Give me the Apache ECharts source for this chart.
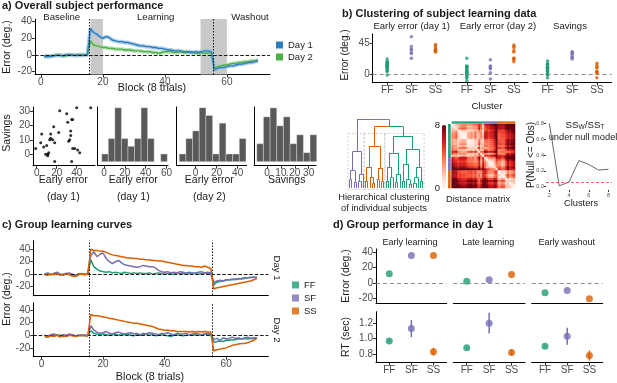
<!DOCTYPE html>
<html>
<head>
<meta charset="utf-8">
<script src="https://cdn.jsdelivr.net/npm/echarts@6/dist/echarts.min.js"></script>
<style>
html, body { margin: 0; padding: 0; background: #fff; }
#chart { width: 617px; height: 383px; }
</style>
</head>
<body>
<div id="chart"></div>
<script>
const FONT = '"Liberation Sans", Arial, sans-serif';
const TICK = '#4d4d4d';

// ---- names / colours ----
const clusterNames = ['FF', 'SF', 'SS'];
const clusterColors = ['#1b9e77', '#7570b3', '#d95f02'];
const dayNames = ['Day 1', 'Day 2'];
const dayColors = ['#2e7ebc', '#4daf4a'];
const dayBandColors = ['#9cc3e6', '#a9d8a4'];

// ---- a) overall error per block (blocks 1..70) ----
const blocks = [];
for (let b = 1; b <= 70; b++) blocks.push(b);
const overallDay1 = [
  -2, -1.5, -2, -1, -0.5, -0.5, -1, 0, 0.5, 0, -0.5, 0, -0.5, 0, 0.5,
  32, 27, 25, 22, 20, 22, 21, 18, 17, 16, 16, 15, 15, 14, 13, 12, 11, 11, 10, 10,
  9, 9, 8, 8, 7, 6, 6, 5, 5, 5, 4, 4, 3, 3, 4, 3, 4, 5, 5, 4,
  -18, -16, -15, -15, -14, -13, -13, -12, -11, -11, -10, -9, -9, -8, -7
];
const overallDay2 = [
  -1, -2, -1, -1, 0, 0, -1, -1, 0, 0, -0.5, 0, 0.5, 0, 0,
  17, 12, 11, 10, 9, 9, 8, 8, 7, 7, 7, 6, 6, 6, 5, 5, 5, 4, 4, 4,
  3, 3, 2, 3, 4, 4, 4, 3, 3, 4, 3, 3, 4, 3, 2, 2, 3, 2, 3, 2,
  -16, -14, -13, -12, -12, -11, -10, -10, -9, -9, -8, -8, -7, -7, -6
];
const phaseLabels = ['Baseline', 'Learning', 'Washout'];
const phaseBreaks = [15.5, 55.5];
const shadeRanges = [[16, 20], [51.5, 60]];

// ---- c) group learning curves ----
const ffDay1 = [
  1, 0, -1, 1, 2, 0, -1, 1, 0, -1, -2, 0, 1, 0, 0,
  23, 12, 8, 5, 4, 3, 4, 2, 3, 2, 1, 3, 2, 1, 2, 1, 2, 1, 1, 2,
  0, 1, 2, 1, 0, 1, 1, 0, 2, 1, 1, 0, 1, 2, 1, 0, 1, 2, 1, 1,
  -17, -13, -12, -11, -10, -9, -9, -8, -8, -7, -6, -6, -5, -5, -5
];
const sfDay1 = [
  0, 2, -1, 1, 3, 0, -2, 1, 2, 0, -3, 1, 0, -1, 1,
  30, 36, 28, 32, 34, 25, 20, 17, 20, 22, 18, 15, 14, 13, 12, 11, 12, 14, 13, 12,
  12, 10, 6, 4, 3, 4, 2, 3, 2, 4, 3, 2, 3, 1, 2, 3, 4, 2, 3, 2,
  -13, -11, -10, -11, -9, -9, -8, -9, -7, -8, -7, -6, -6, -5, -6
];
const ssDay1 = [
  -1, -2, 0, -1, 1, -2, 0, 1, -1, -3, -4, -1, 0, -1, 0,
  40, 38, 38, 37, 37, 35, 33, 31, 30, 29, 28, 27, 26, 26, 25, 25, 24, 24, 23, 23,
  22, 22, 21, 21, 20, 19, 18, 17, 16, 15, 14, 14, 13, 13, 12, 12, 11, 13, 11, 9,
  -24, -22, -21, -20, -19, -18, -17, -16, -15, -14, -13, -12, -11, -9, -7
];
const ffDay2 = [
  -2, -3, 0, -1, 1, 0, -2, -1, 0, 1, -1, 0, -1, 0, 0,
  7, 3, 2, 1, 2, 1, 0, 1, 2, 0, 1, 1, 2, 0, -1, 1, 0, 1, 2, 0,
  1, -1, 0, 1, 0, -1, -2, 0, 1, 0, -1, 0, 1, 0, 1, 0, 1, 2, 1, 1,
  -11, -10, -9, -10, -8, -8, -7, -7, -6, -6, -5, -6, -5, -5, -4
];
const sfDay2 = [
  0, -1, 1, 2, 0, -1, 1, 0, 2, 1, -1, 0, 1, 0, -1,
  15, 8, 5, 3, 4, 6, 3, 2, 4, 5, 3, 2, 3, 4, 2, 3, 1, 3, 2, 4,
  3, 2, 1, 3, 2, 4, 2, 1, 3, 2, 2, 3, 1, 2, 3, 2, 1, 2, 3, 2,
  -7, -5, -8, -4, -6, -5, -3, -5, -4, -6, -4, -3, -5, -4, -4
];
const ssDay2 = [
  -1, -3, -1, -2, 0, -3, -1, -2, 0, -1, -2, -1, 0, -1, -1,
  33, 31, 31, 30, 29, 28, 27, 26, 25, 24, 23, 22, 21, 20, 19, 19, 18, 17, 16, 15,
  14, 12, 10, 9, 8, 8, 7, 7, 6, 6, 6, 6, 5, 6, 5, 6, 5, 6, 5, 5,
  -25, -23, -22, -21, -20, -18, -16, -15, -14, -13, -13, -12, -10, -8, -5
];

// ---- per subject (ordered FF, SF, SS) ----
const subjCluster = [0,0,0,0,0,0,0,0,0,0,0,0,0,0,0,0,0, 1,1,1,1,1,1,1, 2,2,2,2,2,2,2,2,2];
const subjEarly1  = [-1, 4, 5, 10, 9, 11, 11, 12, 13, 14, 14, 16, 17, 18, 18, 22, 7,  23, 30, 31, 35, 36, 40, 54,  32, 33, 34, 34, 36, 35, 38, 41, 43];
const subjEarly2  = [-5, -4, -9, 4, 9, 11, 12, 11, 3, 3, 0, 6, -2, 10, 23, 7, 2,  -7, 2, 9, 11, 12, 8, 21,  23, 23, 18, 21, 32, 40, 34, 38, 42];
const subjSavings = [4, 8, 14, 6, 0, 0, -1, 1, 10, 11, 14, 10, 19, 8, -5, 15, 5,  30, 28, 22, 24, 24, 32, 32,  9, 10, 16, 13, 4, -5, 4, 3, 1];
const stripTitles = ['Early error (day 1)', 'Early error (day 2)', 'Savings'];

// ---- a) histograms: bin left edges, counts, bin width ----
const histEarly1Left = [-2.2, 4.1, 10.4, 16.7, 23.0, 29.3, 35.6, 41.9, 54.5];
const histEarly1Count = [1, 3, 7, 3, 2, 3, 7, 3, 1];
const histEarly1Width = 6.3;
const histEarly2Left = [-15.6, -9.25, -2.9, 3.45, 9.8, 16.15, 22.5, 28.85, 35.2, 41.55];
const histEarly2Count = [1, 3, 4, 7, 6, 1, 5, 1, 1, 3];
const histEarly2Width = 6.35;
const histSavingsLeft = [-7.4, -2.6, 2.2, 7.0, 11.8, 16.6, 21.4, 26.2, 31.0];
const histSavingsCount = [2, 5, 6, 4, 5, 2, 3, 1, 3];
const histSavingsWidth = 4.8;

// ---- b) null model ----
const nullClusters = [2, 3, 4, 5, 6, 7, 8];
const nullP = [0.80, 0.01, 0.06, 0.33, 0.28, 0.21, 0.22];
const nullAlpha = 0.05;

// ---- b) dendrogram: [left, right, height], 0 = leaf ----
const dendroPurple = [[[0, 0, 1.2], [0, 0, 0.8], 2.5], [[0, 0, 1], 0, 2], 5.3];
const dendroOrange = [[[0, 0, 1], [0, [0, 0, 0.7], 1.5], 3], [[0, 0, 1.2], [0, 0, 0.9], 2.8], 6];
const dendroGreen = [[[[0, 0, 1], [0, 0, 1.5], 3], [[0, 0, 0.8], 0, 2], 5.1],
                     [[[0, 0, 1], [0, [0, 0, 0.6], 1.2], 3.5], [[[0, 0, 0.7], 0, 1.5], [0, 0, 1], 3], 5.6], 7.5];
const dendroRoot = [{c: 1, t: dendroPurple}, [{c: 2, t: dendroOrange}, {c: 0, t: dendroGreen}, 8.9], 10];

// ---- d) group performance day 1 ----
const perfPhases = ['Early learning', 'Late learning', 'Early washout'];
const perfError = [[12, 36, 36], [2, 4, 11], [-13, -10, -21]];
const perfRT = [[0.97, 1.13, 0.83], [0.88, 1.20, 0.82], [0.90, 1.03, 0.78]];
const perfRTse = [[0.01, 0.11, 0.05], [0.01, 0.135, 0.04], [0.01, 0.11, 0.065]];

// ================= build =================
const grid = [], xAxis = [], yAxis = [], series = [], graphic = [];

function addGrid(left, top, width, height, xa, ya) {
  const gi = grid.length;
  grid.push({left, top, width, height, containLabel: false, outerBoundsMode: 'none'});
  xAxis.push(Object.assign({gridIndex: gi}, xa));
  yAxis.push(Object.assign({gridIndex: gi}, ya));
  return gi;
}
function numAxis(min, max, ticks, o) {
  o = o || {};
  const has = ticks.length > 0;
  const label = {show: has && o.labels !== false, customValues: ticks, color: TICK,
    fontSize: o.fs || 10, fontFamily: FONT, margin: o.margin || 3};
  if (o.fmt) label.formatter = o.fmt;
  return {
    type: 'value', min, max,
    axisLine: {show: o.line !== false, onZero: false, lineStyle: {color: '#000', width: 1}},
    axisTick: {show: has && o.ticks !== false, customValues: ticks, length: o.tickLen || 3,
      lineStyle: {color: '#333', width: 1}},
    axisLabel: label,
    splitLine: {show: false}
  };
}
const hidden = (min, max) => ({type: 'value', min, max, show: false});
const clusterFmt = v => clusterNames[Math.round(v) - 1];
function txt(text, x, y, o) {
  o = o || {};
  graphic.push({
    type: 'text', x, y, rotation: o.rot || 0, silent: true,
    style: {
      text, fill: o.color || '#1a1a1a',
      font: (o.bold ? 'bold ' : '') + (o.size || 10.5) + 'px ' + FONT,
      textAlign: o.align || 'center', textVerticalAlign: 'middle'
    }
  });
}
const pairs = (xs, ys) => xs.map((x, i) => [x, ys[i]]);
const zeroLine = (color, type) => ({
  silent: true, symbol: ['none', 'none'], label: {show: false},
  lineStyle: {color, width: 0.9, type}, data: [{yAxis: 0}]
});

// ---------- panel a: overall ----------
const gA = addGrid(35, 19, 235, 55.5,
  numAxis(-1.9, 73.9, [0, 20, 40, 60]), numAxis(-23.4, 43.2, [-20, 0, 20, 40]));
[overallDay2, overallDay1].forEach((vals, k) => {
  const d = 1 - k;
  series.push({type: 'line', name: dayNames[d] + ' se', xAxisIndex: gA, yAxisIndex: gA,
    data: pairs(blocks, vals), showSymbol: false, silent: true, z: 2,
    lineStyle: {color: dayBandColors[d], width: 4, opacity: 0.8}});
});
const markA = {
  silent: true, symbol: ['none', 'none'], label: {show: false},
  lineStyle: {color: '#000', width: 0.9, type: 'dashed'},
  data: [{yAxis: 0}].concat(phaseBreaks.map(b => ({xAxis: b, lineStyle: {type: [1.5, 1.5]}})))
};
series.push({type: 'line', name: 'Day 2', color: dayColors[1], xAxisIndex: gA, yAxisIndex: gA,
  data: pairs(blocks, overallDay2), showSymbol: false, z: 3, lineStyle: {width: 1.4},
  markArea: {silent: true, itemStyle: {color: '#c9c9c9'},
    data: shadeRanges.map(r => [{xAxis: r[0]}, {xAxis: r[1]}])}});
series.push({type: 'line', name: 'Day 1', color: dayColors[0], xAxisIndex: gA, yAxisIndex: gA,
  data: pairs(blocks, overallDay1), showSymbol: false, z: 4, lineStyle: {width: 1.4},
  markLine: markA});

// scatter early error vs savings
const gS = addGrid(33, 107, 62, 58.7, numAxis(-3.7, 58.3, [0, 20, 40]), numAxis(-7.9, 32.6, [0, 10, 20, 30]));
series.push({type: 'scatter', xAxisIndex: gS, yAxisIndex: gS, data: pairs(subjEarly1, subjSavings),
  symbolSize: 3, itemStyle: {color: '#000'}, silent: true});

function histSeries(gi, lefts, counts, w) {
  series.push({type: 'custom', xAxisIndex: gi, yAxisIndex: gi, silent: true,
    data: lefts.map((l, i) => [l, counts[i], l + w]),
    renderItem: (p, api) => {
      const a = api.coord([api.value(0), 0]), b = api.coord([api.value(2), api.value(1)]);
      return {type: 'rect', shape: {x: a[0], y: b[1], width: b[0] - a[0], height: a[1] - b[1]},
        style: {fill: '#595959', stroke: '#e6e6e6', lineWidth: 0.4}};
    }});
}
const gH1 = addGrid(97.7, 107, 70.3, 58.7, numAxis(-6.1, 61.5, [0, 20, 40, 60]), numAxis(-0.52, 7.1, []));
histSeries(gH1, histEarly1Left, histEarly1Count, histEarly1Width);
const gH2 = addGrid(176.7, 107, 70, 58.7, numAxis(-18, 48.6, [0, 20, 40]), numAxis(-0.52, 7.1, []));
histSeries(gH2, histEarly2Left, histEarly2Count, histEarly2Width);
const gH3 = addGrid(254, 107, 62, 58.7, numAxis(-9.4, 35.3, [0, 10, 20, 30]), numAxis(-0.45, 6.1, []));
histSeries(gH3, histSavingsLeft, histSavingsCount, histSavingsWidth);

// ---------- panel b: strips ----------
const stripValues = [subjEarly1, subjEarly2, subjSavings];
const stripRects = [[372.7, 77.3], [452.7, 75.3], [532.7, 79]];
stripRects.forEach((r, f) => {
  const gi = addGrid(r[0], 34, r[1], 48.7,
    numAxis(0.4, 3.6, [1, 2, 3], {fmt: clusterFmt}),
    f === 0 ? numAxis(-12.2, 58, [0, 45]) : numAxis(-12.2, 58, [], {line: false}));
  clusterNames.forEach((name, c) => {
    const pts = [];
    subjCluster.forEach((cl, i) => { if (cl === c) pts.push([c + 1, stripValues[f][i]]); });
    series.push({type: 'scatter', name, xAxisIndex: gi, yAxisIndex: gi, data: pts, symbolSize: 3.5,
      itemStyle: {color: clusterColors[c]}, silent: true,
      markLine: c === 0 ? zeroLine('#808080', [4, 3]) : undefined});
  });
});

// dendrogram
const dendroSegs = [], dendroBoxes = {};
let leafPos = 0;
function walk(node, cl) {
  if (node && node.t) return walk(node.t, node.c);
  if (!Array.isArray(node)) {
    const x = leafPos++;
    if (!dendroBoxes[cl]) dendroBoxes[cl] = [x, x];
    dendroBoxes[cl][1] = x;
    return {x, h: 0, color: clusterColors[cl]};
  }
  const a = walk(node[0], cl), b = walk(node[1], cl), h = node[2];
  const x = (a.x + b.x) / 2;
  [a, b].forEach(ch => {
    dendroSegs.push({coords: [[ch.x, ch.h], [ch.x, h]], lineStyle: {color: ch.color}});
    dendroSegs.push({coords: [[ch.x, h], [x, h]], lineStyle: {color: ch.color}});
  });
  return {x, h, color: cl === undefined ? '#808080' : clusterColors[cl]};
}
walk(dendroRoot);
const gD = addGrid(347, 119, 78, 71, hidden(-1, 33), hidden(-0.3, 10));
series.push({type: 'custom', xAxisIndex: gD, yAxisIndex: gD, silent: true, clip: false,
  data: Object.keys(dendroBoxes).map(k => [dendroBoxes[k][0] - 0.6, dendroBoxes[k][1] + 0.6, -0.2, 7.9]),
  renderItem: (p, api) => {
    const a = api.coord([api.value(0), api.value(3)]), b = api.coord([api.value(1), api.value(2)]);
    return {type: 'rect', shape: {x: a[0], y: a[1], width: b[0] - a[0], height: b[1] - a[1]},
      style: {fill: 'none', stroke: '#c4c4c4', lineWidth: 0.8, lineDash: [2, 2]}};
  }});
series.push({type: 'lines', coordinateSystem: 'cartesian2d', xAxisIndex: gD, yAxisIndex: gD,
  silent: true, data: dendroSegs, lineStyle: {width: 1, opacity: 1}});

// distance matrix from subject features
const subjIds = subjCluster.map((c, i) => 's' + i);
const distData = [];
subjCluster.forEach((ci, i) => subjCluster.forEach((cj, j) => {
  const d = Math.sqrt(Math.pow(subjEarly1[i] - subjEarly1[j], 2) +
    Math.pow(subjEarly2[i] - subjEarly2[j], 2) + Math.pow(subjSavings[i] - subjSavings[j], 2)) / 6;
  distData.push([j, i, Math.min(8, d)]);
}));
const gM = addGrid(451.7, 124, 63.3, 64,
  {type: 'category', data: subjIds, show: false},
  {type: 'category', data: subjIds, show: false, inverse: true});
const heatIndex = series.length;
series.push({type: 'heatmap', xAxisIndex: gM, yAxisIndex: gM, data: distData, silent: true,
  itemStyle: {borderWidth: 0}, progressive: 0});
series.push({type: 'custom', xAxisIndex: gM, yAxisIndex: gM, silent: true, clip: false,
  data: subjCluster.map((c, i) => [i, i, c]),
  renderItem: (p, api) => {
    const i = api.value(0), c = api.value(2);
    const top = api.coord([i, 0]), left = api.coord([0, i]), s = api.size([1, 1]);
    return {type: 'group', children: [
      {type: 'rect', shape: {x: top[0] - s[0] / 2, y: top[1] - s[1] / 2 - 2.6, width: s[0] + 0.3, height: 2.2},
        style: {fill: clusterColors[c]}},
      {type: 'rect', shape: {x: left[0] - s[0] / 2 - 3.6, y: left[1] - s[1] / 2, width: 2.6, height: s[1] + 0.3},
        style: {fill: clusterColors[c]}}
    ]};
  }});

// null model
const gN = addGrid(546, 117, 66, 73,
  numAxis(1.66, 8.36, [2, 4, 6, 8], {fs: 5.5, tickLen: 2, line: false, margin: 2}),
  numAxis(-0.042, 0.88, [0, 0.2, 0.4, 0.6, 0.8], {fs: 5.5, tickLen: 2, line: false, margin: 2, fmt: v => v.toFixed(1)}));
series.push({type: 'line', xAxisIndex: gN, yAxisIndex: gN, data: pairs(nullClusters, nullP),
  showSymbol: false, silent: true, lineStyle: {color: '#555', width: 0.9},
  markLine: {silent: true, symbol: ['none', 'none'], label: {show: false},
    lineStyle: {color: '#e8383b', width: 0.8, type: [3, 2]}, data: [{yAxis: nullAlpha}]}});

// ---------- panel c ----------
const cDays = [[ffDay1, sfDay1, ssDay1], [ffDay2, sfDay2, ssDay2]];
const cRects = [[240.7, 54.3, -33.6, 53.8], [302.7, 54, -34, 51.6]];
cRects.forEach((r, d) => {
  const gi = addGrid(33.3, r[0], 235, r[1],
    numAxis(-2.7, 73.7, d === 1 ? [0, 20, 40, 60] : []),
    numAxis(r[2], r[3], [-20, 0, 20, 40]));
  cDays[d].forEach((vals, c) => {
    series.push({type: 'line', name: clusterNames[c], color: clusterColors[c], xAxisIndex: gi, yAxisIndex: gi,
      data: pairs(blocks, vals), showSymbol: false, silent: true, lineStyle: {width: 1.5}, z: 3 + c,
      markLine: c === 0 ? markA : undefined});
  });
});

// ---------- panel d ----------
const dCols = [[376, 70.7], [453.3, 71.7], [531.7, 71]];
dCols.forEach((r, p) => {
  const gE = addGrid(r[0], 249, r[1], 54.3,
    numAxis(0.4, 3.6, [1, 2, 3], {labels: false, ticks: false}),
    p === 0 ? numAxis(-27, 44.5, [-20, 0, 20, 40]) : numAxis(-27, 44.5, [], {line: false}));
  series.push({type: 'scatter', xAxisIndex: gE, yAxisIndex: gE, silent: true, symbolSize: 7,
    data: perfError[p].map((v, c) => ({value: [c + 1, v], itemStyle: {color: clusterColors[c]}})),
    markLine: zeroLine('#808080', [4, 3])});
  const gR = addGrid(r[0], 311.7, r[1], 51,
    numAxis(0.4, 3.6, [1, 2, 3], {fmt: clusterFmt}),
    p === 0 ? numAxis(0.687, 1.35, [0.8, 1.0, 1.2], {fmt: v => v.toFixed(1)}) : numAxis(0.687, 1.35, [], {line: false}));
  series.push({type: 'custom', xAxisIndex: gR, yAxisIndex: gR, silent: true,
    data: perfRT[p].map((v, c) => [c + 1, v - perfRTse[p][c], v + perfRTse[p][c], c]),
    renderItem: (prm, api) => {
      const a = api.coord([api.value(0), api.value(1)]), b = api.coord([api.value(0), api.value(2)]);
      return {type: 'line', shape: {x1: a[0], y1: a[1], x2: b[0], y2: b[1]},
        style: {stroke: clusterColors[api.value(3)], lineWidth: 1.5}};
    }});
  series.push({type: 'scatter', xAxisIndex: gR, yAxisIndex: gR, silent: true, symbolSize: 7,
    data: perfRT[p].map((v, c) => ({value: [c + 1, v], itemStyle: {color: clusterColors[c]}}))});
});

// ---------- texts ----------
txt('a) Overall subject performance', 2, 6, {bold: true, size: 11, align: 'left'});
txt('b) Clustering of subject learning data', 342, 14, {bold: true, size: 11, align: 'left'});
txt('c) Group learning curves', 2, 225, {bold: true, size: 11, align: 'left'});
txt('d) Group performance in day 1', 333, 225, {bold: true, size: 11, align: 'left'});

[61.7, 155.7, 250].forEach((x, i) => txt(phaseLabels[i], x, 17, {size: 9.6}));
txt('Error (deg.)', 7, 47, {rot: Math.PI / 2});
txt('Block (8 trials)', 152, 88.5, {size: 10.8});
txt('Savings', 7, 133, {rot: Math.PI / 2});
txt('Early error', 63.3, 180); txt('(day 1)', 63.3, 197);
txt('Early error', 133.3, 180); txt('(day 1)', 133.3, 197);
txt('Early error', 209.3, 180); txt('(day 2)', 209.3, 197);
txt('Savings', 286.7, 180);

[411.7, 498, 570].forEach((x, i) => txt(stripTitles[i], x, 26, {size: 9.5}));
txt('Error (deg.)', 345, 55, {rot: Math.PI / 2, size: 10});
txt('Cluster', 487, 106, {size: 9.8});
txt('Hierarchical clustering', 384, 197, {size: 9.3});
txt('of individual subjects', 384, 208, {size: 9.3});
txt('Distance matrix', 478, 199, {size: 9.3});
txt('Clusters', 581, 203, {size: 9.3});
txt('P(Null <= Obs)', 531, 155, {rot: Math.PI / 2, size: 10});
txt('8', 440, 125, {size: 9.5, align: 'right'});
txt('0', 440, 188, {size: 9.5, align: 'right'});
txt('under null model', 583, 137, {size: 9.3});
graphic.push({type: 'text', x: 585, y: 125, silent: true, style: {
  text: '{n|SS}{s|W}{n|/SS}{s|T}', textAlign: 'center', textVerticalAlign: 'middle', fill: '#1a1a1a',
  rich: {n: {fontSize: 9.8, fontFamily: FONT, lineHeight: 12, verticalAlign: 'middle'},
         s: {fontSize: 6.5, fontFamily: FONT, lineHeight: 12, verticalAlign: 'bottom'}}}});

txt('Error (deg.)', 7, 299, {rot: Math.PI / 2});
txt('Block (8 trials)', 150, 377, {size: 10.8});
txt('Day 1', 277, 268, {rot: -Math.PI / 2, size: 9.5});
txt('Day 2', 277, 330, {rot: -Math.PI / 2, size: 9.5});

[410, 488.3, 566.7].forEach((x, i) => txt(perfPhases[i], x, 243, {size: 9}));
txt('Error (deg.)', 346, 276, {rot: Math.PI / 2, size: 10.5});
txt('RT (sec)', 346, 337, {rot: Math.PI / 2, size: 10.5});

const chart = echarts.init(document.getElementById('chart'));
chart.setOption({
  animation: false,
  textStyle: {fontFamily: FONT},
  grid, xAxis, yAxis, series, graphic,
  legend: [
    {data: dayNames, orient: 'vertical', left: 276, top: 40, icon: 'rect', itemWidth: 7, itemHeight: 7,
      itemGap: 2, padding: 0, selectedMode: false, textStyle: {fontSize: 9.5, color: '#1a1a1a', fontFamily: FONT}},
    {data: clusterNames, orient: 'vertical', left: 292, top: 280, icon: 'rect', itemWidth: 7, itemHeight: 7,
      itemGap: 3, padding: 0, selectedMode: false, textStyle: {fontSize: 9.5, color: '#1a1a1a', fontFamily: FONT}}
  ],
  visualMap: {type: 'continuous', min: 0, max: 8, seriesIndex: heatIndex, calculable: false,
    left: 442, top: 125, itemWidth: 4, itemHeight: 63, padding: 0, text: null, showLabel: false,
    inRange: {color: ['#fff5f0', '#fee0d2', '#fcbba1', '#fc9272', '#fb6a4a', '#ef3b2c', '#cb181d', '#a50f15', '#67000d']}}
});
</script>
</body>
</html>
